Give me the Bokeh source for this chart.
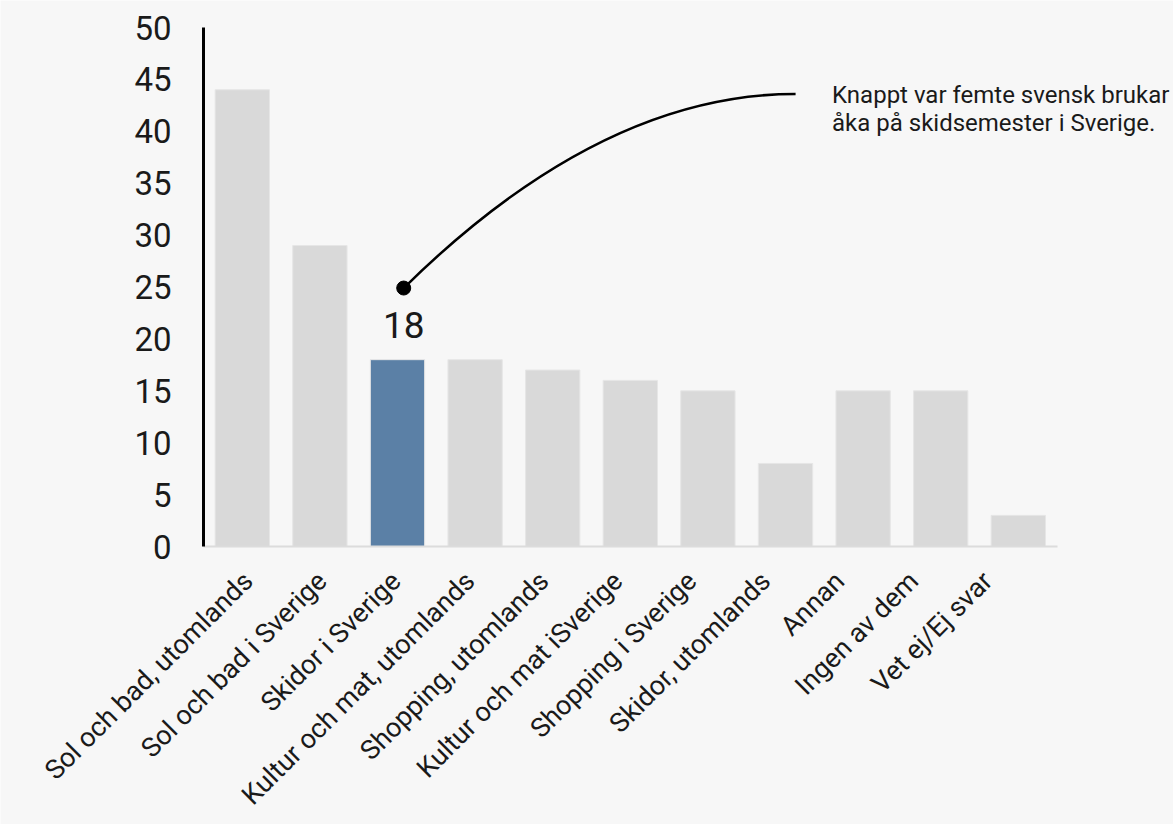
import math
from bokeh.plotting import figure
from bokeh.models import Range1d, FixedTicker, Label
from bokeh.core.properties import value
from bokeh.embed import file_html
from bokeh.resources import INLINE

categories = ["Sol och bad, utomlands", "Sol och bad i Sverige", "Skidor i Sverige",
              "Kultur och mat, utomlands", "Shopping, utomlands", "Kultur och mat iSverige",
              "Shopping i Sverige", "Skidor, utomlands", "Annan", "Ingen av dem", "Vet ej/Ej svar"]
values = [44, 29, 18, 18, 17, 16, 15, 8, 15, 15, 3]
highlight = "Skidor i Sverige"
y_ticks = [0, 5, 10, 15, 20, 25, 30, 35, 40, 45, 50]
note_lines = ["Knappt var femte svensk brukar", "åka på skidsemester i Sverige."]

BG = "#f7f7f7"
FONT = "Roboto"
colors = ["#5b80a6" if c == highlight else "#d9d9d9" for c in categories]
n = len(categories)
xs = [i + 0.5 for i in range(n)]
label_pos = [round(0.575 + 0.953 * i, 3) for i in range(n)]

W, H = 1173, 824
PX_X, PX_Y = 77.6, 10.38          # pixels per data unit
X0, Y0 = 203, 546                  # pixel position of the data origin
p = figure(x_range=Range1d(-X0 / PX_X, (W - X0) / PX_X),
           y_range=Range1d(-(H - Y0) / PX_Y, Y0 / PX_Y),
           width=W, height=H, output_backend="svg", toolbar_location=None,
           min_border=0, min_border_left=0, min_border_right=0,
           min_border_top=0, min_border_bottom=0)
p.background_fill_color = BG
p.border_fill_color = BG
p.outline_line_color = None
p.xgrid.grid_line_color = None
p.ygrid.grid_line_color = None

p.vbar(x=xs, top=values, width=0.7, fill_color=colors, line_color="#e6e6e6", line_width=1)

# y axis
ya = p.yaxis[0]
ya.fixed_location = 0
ya.bounds = (0, 50)
ya.ticker = FixedTicker(ticks=y_ticks)
ya.axis_line_color = "black"
ya.axis_line_width = 3
ya.major_tick_line_color = None
ya.minor_tick_line_color = None
ya.major_label_text_font = FONT
ya.major_label_text_font_size = "33px"
ya.major_label_text_color = "#1a1a1a"
ya.major_label_standoff = 26

# x axis
xa = p.xaxis[0]
xa.fixed_location = 0
xa.bounds = (0, n)
xa.ticker = FixedTicker(ticks=label_pos)
xa.major_label_overrides = {x: c for x, c in zip(label_pos, categories)}
xa.axis_line_color = "#dcdcdc"
xa.axis_line_width = 2
xa.major_tick_line_color = None
xa.minor_tick_line_color = None
xa.major_label_orientation = math.pi / 4
xa.major_label_text_font = FONT
xa.major_label_text_font_size = "27px"
xa.major_label_text_color = "#1a1a1a"
xa.major_label_standoff = 24

# annotation
hi = categories.index(highlight)
dot_x = xs[hi] + 0.08
dot_y = 24.9
p.quadratic(x0=[dot_x], y0=[dot_y], x1=[7.63], y1=[43.6], cx=[5.12], cy=[43.6],
            line_color="black", line_width=2.5)
p.scatter(x=[dot_x], y=[dot_y], size=14, color="black")
p.add_layout(Label(x=dot_x, y=values[hi] + 3.3, text=str(values[hi]),
                   text_align="center", text_baseline="middle", text_font=FONT,
                   text_font_size="37px", text_color="#1a1a1a"))
for yv, line in zip([43.5, 40.8], note_lines):
    p.add_layout(Label(x=8.1, y=yv, text=line, text_align="left", text_baseline="alphabetic",
                       text_font=FONT, text_font_size="24px", text_color="#1a1a1a"))

open("out.html", "w").write(file_html(p, INLINE))
